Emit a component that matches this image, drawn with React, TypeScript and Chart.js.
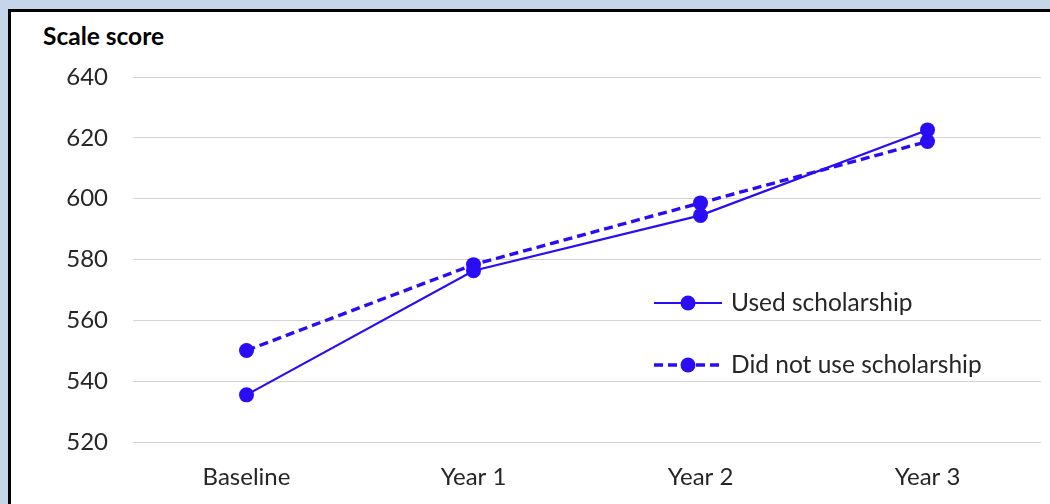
import React, { useEffect, useRef } from "react";
import { Chart, registerables } from "chart.js";

Chart.register(...registerables);

const categories = ["Baseline", "Year 1", "Year 2", "Year 3"];
const usedScholarship = [535.5, 576.3, 594.5, 622.6];
const didNotUseScholarship = [550.1, 578.3, 598.6, 618.8];
const seriesLabels = ["Used scholarship", "Did not use scholarship"];
const yMin = 520;
const yMax = 640;
const yStep = 20;
const yTitle = "Scale score";

const BLUE = "#2a0cf5";
const FONT = "Lato, 'Open Sans', sans-serif";

const legendPlugin = {
  id: "floatingLegend",
  afterDraw(chart: any) {
    const ctx = chart.ctx;
    const items = [
      { label: seriesLabels[0], dash: [] as number[], width: 2.2, y: 303 },
      { label: seriesLabels[1], dash: [9, 5], width: 3.4, y: 365 },
    ];
    ctx.save();
    items.forEach((it) => {
      ctx.strokeStyle = BLUE;
      ctx.lineWidth = it.width;
      ctx.setLineDash(it.dash);
      ctx.beginPath();
      ctx.moveTo(654, it.y);
      ctx.lineTo(722, it.y);
      ctx.stroke();
      ctx.setLineDash([]);
      ctx.fillStyle = BLUE;
      ctx.beginPath();
      ctx.arc(688, it.y, 7.5, 0, Math.PI * 2);
      ctx.fill();
      ctx.fillStyle = "#262626";
      ctx.font = `24.5px ${FONT}`;
      ctx.textBaseline = "middle";
      ctx.textAlign = "left";
      ctx.fillText(it.label, 731, it.y);
    });
    ctx.restore();
  },
};

export default function App() {
  const ref = useRef<HTMLCanvasElement>(null);
  useEffect(() => {
    if (!ref.current) return;
    const chart = new Chart(ref.current, {
      type: "line",
      data: {
        labels: categories,
        datasets: [
          {
            label: seriesLabels[0],
            data: usedScholarship,
            borderColor: BLUE,
            backgroundColor: BLUE,
            borderWidth: 2.2,
            pointRadius: 7.5,
            pointHoverRadius: 7.5,
            pointBackgroundColor: BLUE,
            pointBorderWidth: 0,
            tension: 0,
          },
          {
            label: seriesLabels[1],
            data: didNotUseScholarship,
            borderColor: BLUE,
            backgroundColor: BLUE,
            borderWidth: 3.4,
            borderDash: [9, 5],
            pointRadius: 7.5,
            pointHoverRadius: 7.5,
            pointBackgroundColor: BLUE,
            pointBorderWidth: 0,
            tension: 0,
          },
        ],
      },
      options: {
        animation: false,
        responsive: false,
        maintainAspectRatio: false,
        layout: { padding: { left: 0, top: 77, right: 9, bottom: 0 } },
        plugins: {
          legend: { display: false },
          tooltip: { enabled: false },
        },
        scales: {
          x: {
            offset: true,
            grid: { display: false },
            border: { display: false },
            ticks: {
              color: "#262626",
              font: { family: FONT, size: 24 },
              padding: 13,
              maxRotation: 0,
            },
            afterFit: (s: any) => {
              s.height = 62;
            },
          },
          y: {
            min: yMin,
            max: yMax,
            border: { display: false },
            grid: { color: "#d4d4d4", lineWidth: 1, drawTicks: false },
            ticks: {
              stepSize: yStep,
              color: "#262626",
              font: { family: FONT, size: 24 },
              padding: 25,
            },
            afterFit: (s: any) => {
              s.width = 133;
            },
          },
        },
      },
      plugins: [legendPlugin],
    });
    return () => chart.destroy();
  }, []);

  return (
    <div
      style={{
        position: "fixed",
        left: 0,
        top: 0,
        width: 1050,
        height: 504,
        background: "#c6d6ea",
        overflow: "hidden",
      }}
    >
      <div
        style={{
          position: "absolute",
          left: 8,
          top: 9,
          width: 1200,
          height: 700,
          background: "#ffffff",
          borderLeft: "3px solid #000",
          borderTop: "3px solid #000",
        }}
      />
      <div
        style={{
          position: "absolute",
          left: 43,
          top: 22,
          fontFamily: FONT,
          fontWeight: 700,
          fontSize: 24.5,
          color: "#000",
          lineHeight: "28px",
          whiteSpace: "nowrap",
        }}
      >
        {yTitle}
      </div>
      <canvas
        ref={ref}
        width={1050}
        height={504}
        style={{ position: "absolute", left: 0, top: 0, width: 1050, height: 504 }}
      />
    </div>
  );
}
